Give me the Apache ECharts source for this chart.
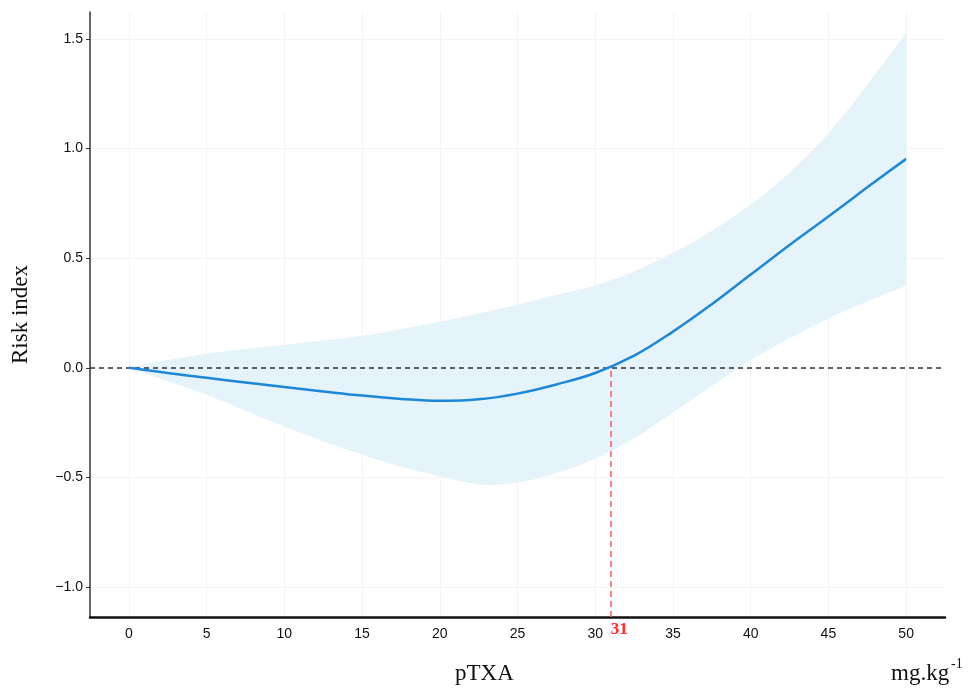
<!DOCTYPE html>
<html>
<head>
<meta charset="utf-8">
<script src="https://cdn.jsdelivr.net/npm/echarts@6/dist/echarts.min.js"></script>
<style>html,body{margin:0;padding:0;background:#fff;}#c{width:968px;height:689px;}</style>
</head>
<body>
<div id="c"></div>
<script>
const xValues = [0, 2.5, 5, 7.5, 10, 12.5, 15, 17.5, 20, 22.5, 25, 27.5, 30, 32.5, 35, 37.5, 40, 42.5, 45, 47.5, 50];
const estimate = [0, -0.024, -0.046, -0.067, -0.088, -0.108, -0.127, -0.142, -0.151, -0.144, -0.118, -0.076, -0.024, 0.055, 0.165, 0.29, 0.425, 0.56, 0.69, 0.823, 0.953];
const upperCI = [0, 0.035, 0.064, 0.086, 0.105, 0.125, 0.146, 0.176, 0.21, 0.248, 0.288, 0.333, 0.375, 0.44, 0.523, 0.625, 0.745, 0.89, 1.07, 1.29, 1.528];
const lowerCI = [0, -0.062, -0.123, -0.196, -0.268, -0.335, -0.397, -0.452, -0.495, -0.532, -0.525, -0.48, -0.415, -0.322, -0.205, -0.083, 0.035, 0.135, 0.225, 0.302, 0.374];
const xTicks = [0, 5, 10, 15, 20, 25, 30, 35, 40, 45, 50];
const yTicks = [-1.0, -0.5, 0.0, 0.5, 1.0, 1.5];
const cutoff = 31;

const xMin = -2.5, xMax = 52.5, yMin = -1.137, yMax = 1.623;

const bandRows = xValues.map((x, i) => [x, lowerCI[i], upperCI[i]]);
const estData = xValues.map((x, i) => [x, estimate[i]]);

// Catmull-Rom through pixel points -> cubic bezier path commands
function splinePath(pts, moveFirst) {
  let d = (moveFirst ? 'M' : 'L') + pts[0][0].toFixed(2) + ' ' + pts[0][1].toFixed(2);
  for (let i = 0; i < pts.length - 1; i++) {
    const p0 = pts[Math.max(0, i - 1)], p1 = pts[i], p2 = pts[i + 1], p3 = pts[Math.min(pts.length - 1, i + 2)];
    const c1 = [p1[0] + (p2[0] - p0[0]) / 6, p1[1] + (p2[1] - p0[1]) / 6];
    const c2 = [p2[0] - (p3[0] - p1[0]) / 6, p2[1] - (p3[1] - p1[1]) / 6];
    d += ' C' + c1[0].toFixed(2) + ' ' + c1[1].toFixed(2) + ' ' + c2[0].toFixed(2) + ' ' + c2[1].toFixed(2) + ' ' + p2[0].toFixed(2) + ' ' + p2[1].toFixed(2);
  }
  return d;
}

const chart = echarts.init(document.getElementById('c'));
chart.setOption({
  animation: false,
  backgroundColor: '#fff',
  grid: { left: 90, right: 23, top: 12, bottom: 72 },
  xAxis: {
    type: 'value', min: xMin, max: xMax,
    axisLine: { show: true, onZero: false, lineStyle: { color: '#111', width: 2.5 } },
    axisTick: { show: false, customValues: xTicks },
    axisLabel: { customValues: xTicks, color: '#111', fontFamily: 'Liberation Sans, Arial', fontSize: 14, margin: 10 },
    splitLine: { show: true, lineStyle: { color: '#f4f4f4', width: 1 } }
  },
  yAxis: {
    type: 'value', min: yMin, max: yMax,
    name: 'Risk index', nameLocation: 'middle', nameGap: 58,
    nameTextStyle: { fontFamily: 'Liberation Serif, Times New Roman', fontSize: 23, color: '#111' },
    axisLine: { show: true, onZero: false, lineStyle: { color: '#333', width: 1.5 } },
    axisTick: { show: true, customValues: yTicks, length: 4, lineStyle: { color: '#333' } },
    axisLabel: { customValues: yTicks, color: '#111', fontFamily: 'Liberation Sans, Arial', fontSize: 14, margin: 7,
      formatter: v => (v < 0 ? '\u2212' + Math.abs(v).toFixed(1) : v.toFixed(1)) },
    splitLine: { show: true, lineStyle: { color: '#f4f4f4', width: 1 } }
  },
  series: [
    {
      type: 'custom', data: bandRows, silent: true, z: 1,
      encode: { x: 0, y: [1, 2] },
      renderItem: function (params, api) {
        if (params.dataIndex !== 0) return null;
        const up = bandRows.map(r => api.coord([r[0], r[2]]));
        const lo = bandRows.map(r => api.coord([r[0], r[1]])).reverse();
        const d = splinePath(up, true) + ' ' + splinePath(lo, false) + ' Z';
        return { type: 'path', shape: { pathData: d }, style: { fill: '#e5f3fb' } };
      }
    },
    {
      type: 'line', data: estData, symbol: 'none', smooth: 0.4,
      lineStyle: { color: '#1e88d8', width: 2.5 }, z: 5,
      markLine: {
        silent: true, symbol: 'none', animation: false,
        data: [
          [
            { coord: [xMin, 0], lineStyle: { color: '#333', type: [5, 4], width: 1.5 }, label: { show: false } },
            { coord: [xMax, 0] }
          ],
          [
            { coord: [cutoff, yMin], lineStyle: { color: '#ff5a5a', type: [6, 4], width: 1.5 },
              label: { show: true, position: 'start', formatter: String(cutoff), color: '#ff2a2a', align: 'left',
                fontFamily: 'Liberation Serif, Times New Roman', fontWeight: 'bold', fontSize: 17, distance: 4 } },
            { coord: [cutoff, 0] }
          ]
        ]
      }
    }
  ],
  graphic: [
    { type: 'text', left: 455, top: 662, style: { text: 'pTXA', fontFamily: 'Liberation Serif, Times New Roman', fontSize: 23, fill: '#111' } },
    { type: 'text', left: 891, top: 662, style: { text: 'mg.kg', fontFamily: 'Liberation Serif, Times New Roman', fontSize: 23, fill: '#111' } },
    { type: 'text', left: 951, top: 657, style: { text: '-1', fontFamily: 'Liberation Serif, Times New Roman', fontSize: 14, fill: '#111' } }
  ]
});
</script>
</body>
</html>
